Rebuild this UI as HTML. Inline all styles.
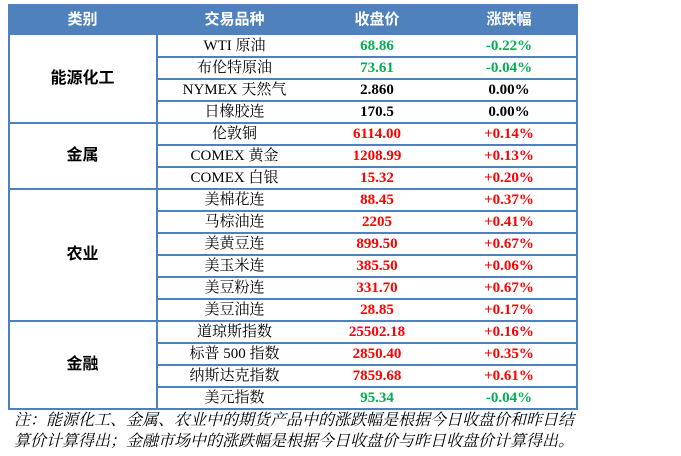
<!DOCTYPE html>
<html><head><meta charset="utf-8"><style>
body{margin:0;width:681px;height:456px;background:#fff;position:relative;overflow:hidden;font-family:"Liberation Serif","Noto Serif CJK SC",serif}
.hd{position:absolute;top:4px;height:31px;background:#4f81bd;left:8px;width:568px}
.ht{position:absolute;top:4px;height:31px;color:#fff;font:bold 15px "Liberation Sans","Noto Sans CJK SC",sans-serif;line-height:31px;text-align:center}
.c{position:absolute;height:22px;line-height:22px;font-size:15px;text-align:center}
.v{font-weight:bold}
.g{color:#00b050}.r{color:#ff0000}.k{color:#000}
.hl{position:absolute;height:2px;background:#4f81bd}
.vl{position:absolute;width:2px;background:#4f81bd}
.cat{position:absolute;left:8px;width:149px;text-align:center;font:bold 16px "Liberation Sans","Noto Sans CJK SC",sans-serif}
.note{position:absolute;left:14px;font-style:italic;font-size:16px;line-height:21px;color:#000;font-family:"Liberation Serif","Noto Serif CJK SC",serif;white-space:nowrap}
</style></head><body>
<div class="hd"></div>
<div class="ht" style="left:8px;width:149px">类别</div>
<div class="ht" style="left:157px;width:155px">交易品种</div>
<div class="ht" style="left:312px;width:130px">收盘价</div>
<div class="ht" style="left:442px;width:134px">涨跌幅</div>
<div id="t"></div>
<div class="note" style="top:410px">注：能源化工、金属、农业中的期货产品中的涨跌幅是根据今日收盘价和昨日结</div>
<div class="note" style="top:431px">算价计算得出；金融市场中的涨跌幅是根据今日收盘价与昨日收盘价计算得出。</div>
<script>
const groups=["能源化工","金属","农业","金融"];
const groupSizes=[4,3,6,4];
const products=["WTI 原油","布伦特原油","NYMEX 天然气","日橡胶连","伦敦铜","COMEX 黄金","COMEX 白银","美棉花连","马棕油连","美黄豆连","美玉米连","美豆粉连","美豆油连","道琼斯指数","标普 500 指数","纳斯达克指数","美元指数"];
const closes=["68.86","73.61","2.860","170.5","6114.00","1208.99","15.32","88.45","2205","899.50","385.50","331.70","28.85","25502.18","2850.40","7859.68","95.34"];
const changes=["-0.22%","-0.04%","0.00%","0.00%","+0.14%","+0.13%","+0.20%","+0.37%","+0.41%","+0.67%","+0.06%","+0.67%","+0.17%","+0.16%","+0.35%","+0.61%","-0.04%"];
const t=document.getElementById('t');
const top0=35,rh=22;
function cls(ch){return ch[0]=='-'?'g':ch[0]=='+'?'r':'k';}
function add(html){t.insertAdjacentHTML('beforeend',html);}
products.forEach((p,i)=>{
 const y=top0+i*rh,c=cls(changes[i]);
 add(`<div class="c" style="left:157px;width:155px;top:${y}px">${p}</div>`);
 add(`<div class="c v ${c}" style="left:312px;width:130px;top:${y}px">${closes[i]}</div>`);
 add(`<div class="c v ${c}" style="left:442px;width:134px;top:${y}px">${changes[i]}</div>`);
 if(i>0) add(`<div class="hl" style="left:157px;width:419px;top:${y-1}px"></div>`);
});
let s=0;
groups.forEach((g,k)=>{
 const y=top0+s*rh,h=groupSizes[k]*rh;
 add(`<div class="cat" style="top:${y}px;height:${h}px;line-height:${h}px">${g}</div>`);
 if(k>0) add(`<div class="hl" style="left:8px;width:568px;top:${y-1}px"></div>`);
 s+=groupSizes[k];
});
const bottom=top0+s*rh;
add(`<div class="hl" style="left:8px;width:570px;top:${bottom-1}px"></div>`);
add(`<div class="vl" style="left:8px;top:4px;height:${bottom-4}px"></div>`);
add(`<div class="vl" style="left:576px;top:4px;height:${bottom-4}px"></div>`);
add(`<div class="vl" style="left:156px;top:35px;height:${bottom-35}px"></div>`);
</script>
</body></html>
